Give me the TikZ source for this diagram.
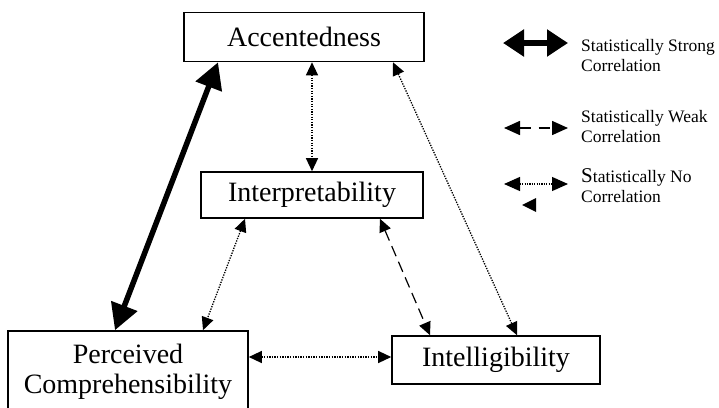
\documentclass[tikz,border=0pt]{standalone}
\usepackage{fontspec}
\setmainfont{Liberation Serif}
\usetikzlibrary{arrows.meta}
\tikzset{
  box/.style={draw, line width=1.6pt, inner sep=0pt, align=center, font=\fontsize{28}{30}\selectfont},
  strongarr/.style={line width=5.5pt, {Triangle[length=26pt,width=27pt]}-{Triangle[length=26pt,width=27pt]}},
  weakarr/.style={line width=1.2pt, dash pattern=on 11pt off 6pt, {Triangle[length=13pt,width=12pt]}-{Triangle[length=13pt,width=12pt]}},
  noarr/.style={line width=1.3pt, dash pattern=on 1.3pt off 1.3pt, {Triangle[length=13pt,width=12pt]}-{Triangle[length=13pt,width=12pt]}},
  legtext/.style={anchor=west, align=left, inner sep=0pt, font=\fontsize{17.5}{20}\selectfont}
}
\begin{document}
\begin{tikzpicture}[x=1pt,y=-1pt]
\clip (0,0) rectangle (719,407);
\fill[white] (0,0) rectangle (719,407);
% boxes
\node[box, minimum width=240pt, minimum height=49pt] (acc) at (304,37) {Accentedness};
\node[box, minimum width=222pt, minimum height=46pt] (int) at (312,195) {Interpretability};
\node[box, minimum width=240pt, minimum height=88pt] (per) at (128,375) {};
\node[font=\fontsize{28}{30}\selectfont, align=center, inner sep=0pt, anchor=north] (pertext) at (128,344) {Perceived\\Comprehensibility};
\node[box, minimum width=208pt, minimum height=48pt] (itl) at (496,360) {Intelligibility};
% connectors
\draw[strongarr] ([xshift=-13pt]per.north) -- ([xshift=-86pt]acc.south);
\draw[noarr] ([xshift=8pt]acc.south) -- (int.north);
\draw[noarr] ([xshift=89pt]acc.south) -- ([xshift=21pt]itl.north);
\draw[noarr] ([xshift=-67pt]int.south) -- ([xshift=75pt]per.north);
\draw[weakarr] ([xshift=68pt]int.south) -- ([xshift=-66pt]itl.north);
\draw[noarr] ([yshift=18pt]per.east) -- ([yshift=3pt]itl.west);
% legend
\coordinate (s1) at (503,43); \coordinate (s2) at (568,43);
\draw[line width=5.5pt, {Triangle[length=21pt,width=26pt]}-{Triangle[length=21pt,width=26pt]}] (s1) -- (s2);
\node[legtext] (l1) at (581,56) {Statistically Strong\\Correlation};
\coordinate (w1) at (504,128); \coordinate (w2) at (568,128);
\draw[line width=1.6pt, dash pattern=on 11pt off 8pt, {Triangle[length=16pt,width=14pt]}-{Triangle[length=16pt,width=14pt]}] (w1) -- (w2);
\node[legtext] (l2) at (581,127) {Statistically Weak\\Correlation};
\coordinate (n1) at (504,184); \coordinate (n2) at (568,184);
\draw[line width=1.2pt, dash pattern=on 1.2pt off 1.2pt, {Triangle[length=16pt,width=14pt]}-{Triangle[length=16pt,width=14pt]}] (n1) -- (n2);
\fill (522,205) -- (536,198) -- (536,212) -- cycle;
\node[legtext] (l3) at (581,186) {{\fontsize{21}{20}\selectfont S}tatistically No\\Correlation};
\end{tikzpicture}
\end{document}
